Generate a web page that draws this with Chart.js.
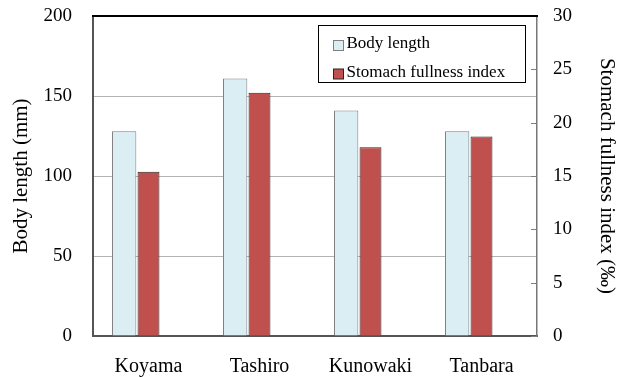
<!DOCTYPE html>
<html>
<head>
<meta charset="utf-8">
<script src="https://cdn.jsdelivr.net/npm/chart.js@4/dist/chart.umd.min.js"></script>
<style>
  html, body { margin: 0; padding: 0; background: #fff; }
  #wrap { position: relative; width: 624px; height: 377px; }
</style>
</head>
<body>
<div id="wrap"><canvas id="chart" width="624" height="377"></canvas></div>
<script>
// Sampling sites
const sites = ['Koyama', 'Tashiro', 'Kunowaki', 'Tanbara'];
// Mean body length (mm), left axis
const bodyLength = [128, 161, 141, 128];
// Stomach fullness index (‰), right axis
const fullnessIndex = [15.4, 22.8, 17.7, 18.7];
// Empty slot that keeps each pair of bars left of the category centre
const emptySlot = [null, null, null, null];

// Axis ticks
const leftTicks = [0, 50, 100, 150, 200];
const rightTicks = [0, 5, 10, 15, 20, 25, 30];

const SERIF = '"Liberation Serif", "Times New Roman", serif';

// Frame: black top edge plus short inward ticks on the right axis
const framePlugin = {
  id: 'frame',
  afterDatasetsDraw(chart) {
    const { ctx, chartArea: a } = chart;
    const y2 = chart.scales.y2;
    ctx.save();
    ctx.strokeStyle = '#808080';
    ctx.lineWidth = 1;
    y2.ticks.forEach(t => {
      const py = Math.round(y2.getPixelForValue(t.value)) + 0.5;
      ctx.beginPath();
      ctx.moveTo(a.right - 6, py);
      ctx.lineTo(a.right, py);
      ctx.stroke();
    });
    ctx.strokeStyle = '#000';
    ctx.lineWidth = 2;
    ctx.beginPath();
    ctx.moveTo(a.left - 1, a.top);
    ctx.lineTo(a.right + 1, a.top);
    ctx.stroke();
    ctx.restore();
  }
};

// Boxed legend in the upper right of the plot area
const boxLegendPlugin = {
  id: 'boxLegend',
  afterDraw(chart) {
    const { ctx, chartArea: a } = chart;
    const items = chart.data.datasets.filter(d => d.label);
    const left = a.right - 219, top = a.top + 9, w = 207, h = 57;
    ctx.save();
    ctx.fillStyle = '#fff';
    ctx.fillRect(left, top, w, h);
    ctx.strokeStyle = '#000';
    ctx.lineWidth = 1;
    ctx.strokeRect(left + 0.5, top + 0.5, w, h);
    ctx.font = '17px ' + SERIF;
    ctx.textBaseline = 'alphabetic';
    ctx.textAlign = 'left';
    items.forEach((d, i) => {
      const sy = top + 15.5 + i * 28.5;
      ctx.fillStyle = d.backgroundColor;
      ctx.fillRect(left + 15.5, sy, 10, 10);
      ctx.strokeStyle = d.borderColor;
      ctx.strokeRect(left + 15.5, sy, 10, 10);
      ctx.fillStyle = '#000';
      ctx.fillText(d.label, left + 28.5, top + 22.5 + i * 29.5);
    });
    ctx.restore();
  }
};

new Chart(document.getElementById('chart'), {
  type: 'bar',
  data: {
    labels: sites,
    datasets: [
      {
        label: 'Body length',
        data: bodyLength,
        yAxisID: 'y',
        backgroundColor: '#dbeef4',
        borderColor: '#7f7f7f',
        borderWidth: 1,
        barPercentage: 1.0,
        categoryPercentage: 0.658
      },
      {
        label: 'Stomach fullness index',
        data: fullnessIndex,
        yAxisID: 'y2',
        backgroundColor: '#c0504d',
        borderColor: '#262626',
        borderWidth: 1,
        barPercentage: 0.9,
        categoryPercentage: 0.658
      },
      {
        label: '',
        data: emptySlot,
        yAxisID: 'y',
        backgroundColor: 'rgba(0,0,0,0)',
        borderWidth: 0,
        barPercentage: 1.0,
        categoryPercentage: 0.658
      }
    ]
  },
  options: {
    responsive: false,
    animation: false,
    devicePixelRatio: 1,
    layout: { padding: { top: 16, left: 0, right: 0, bottom: 0 } },
    plugins: {
      legend: { display: false },
      tooltip: { enabled: false }
    },
    scales: {
      x: {
        grid: { display: false, drawTicks: false },
        border: { display: true, color: '#555', width: 2 },
        ticks: {
          color: '#000',
          padding: 19,
          font: { family: SERIF, size: 20 }
        },
        afterFit(s) { s.height = 41; s.paddingLeft = 0; s.paddingRight = 0; }
      },
      y: {
        position: 'left',
        min: 0,
        max: 200,
        afterBuildTicks(s) { s.ticks = leftTicks.map(v => ({ value: v })); },
        grid: {
          drawTicks: false,
          color: ctx => (ctx.tick && (ctx.tick.value === 0 || ctx.tick.value === 200)) ? 'rgba(0,0,0,0)' : '#b3b3b3',
          lineWidth: 1
        },
        border: { display: true, color: '#555', width: 2 },
        ticks: {
          color: '#000',
          padding: 21,
          font: { family: SERIF, size: 19 }
        },
        title: {
          display: true,
          text: 'Body length (mm)',
          color: '#000',
          padding: { top: 9, bottom: 0 },
          font: { family: SERIF, size: 21 }
        },
        afterFit(s) { s.width = 93; s.paddingTop = 0; s.paddingBottom = 0; }
      },
      y2: {
        position: 'right',
        min: 0,
        max: 30,
        afterBuildTicks(s) { s.ticks = rightTicks.map(v => ({ value: v })); },
        grid: { drawOnChartArea: false, drawTicks: false },
        border: { display: true, color: '#777', width: 1.5 },
        ticks: {
          color: '#000',
          padding: 16,
          font: { family: SERIF, size: 19 }
        },
        title: {
          display: true,
          text: 'Stomach fullness index (‰)',
          color: '#000',
          padding: { top: 5, bottom: 0 },
          font: { family: SERIF, size: 21 }
        },
        afterFit(s) { s.width = 87; s.paddingTop = 0; s.paddingBottom = 0; }
      }
    }
  },
  plugins: [framePlugin, boxLegendPlugin]
});
</script>
</body>
</html>
